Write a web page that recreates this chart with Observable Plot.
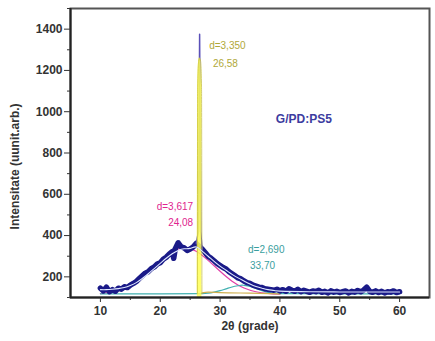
<!DOCTYPE html>
<html><head><meta charset="utf-8">
<script src="https://cdn.jsdelivr.net/npm/d3@7"></script>
<script src="https://cdn.jsdelivr.net/npm/@observablehq/plot@0.6"></script>
<style>body{margin:0;background:#fff}</style>
</head><body><div id="chart"></div>
<script>
// Measured XRD pattern (2θ, intensity)
const dataAngle = [10,10.5,11,11.5,12,12.5,13,13.5,14,14.5,15,15.5,16,16.5,17,17.5,18,18.5,19,19.5,20,20.5,21,21.5,22,22.25,22.5,23,23.5,24,24.5,25,25.5,26,27,27.5,28,28.5,29,29.5,30,30.5,31,31.5,32,32.5,33,33.5,34,34.5,35,35.5,36,36.5,37,37.5,38,38.5,39,39.5,40,40.5,41,41.5,42,42.5,43,43.5,44,44.5,45,45.5,46,46.5,47,47.5,48,48.5,49,49.5,50,50.5,51,51.5,52,52.5,53,53.5,54,54.5,55,55.5,56,56.5,57,57.5,58,58.5,59,59.5,60];
const dataIntensity = [145,132,150,128,138,130,145,140,152,148,160,168,178,192,205,218,225,240,248,262,268,285,295,310,322,290,335,365,345,340,328,335,345,362,335,318,300,290,278,265,255,245,238,225,215,205,195,190,180,172,168,160,155,150,148,142,140,138,135,140,132,138,130,142,135,130,140,128,135,130,125,132,128,135,125,130,122,132,126,130,124,128,132,122,130,126,134,128,136,150,130,125,132,124,130,122,128,126,132,124,128];
// Sharp peak at 26.58
const peakAngle = [26, 26.4, 26.58, 26.76, 27];
const peakIntensity = [362, 420, 1375, 420, 335];
// Fitted envelope
const fitAngle = [10,11,12,13,14,15,16,17,18,19,20,21,22,23,24,25,26,27,28,29,30,31,32,33,34,35,36,37,38,39,40,45,50,55,60];
const fitIntensity = [138,138,140,143,148,158,172,192,215,240,265,290,312,328,336,338,345,325,300,275,252,232,212,195,180,165,153,145,138,134,131,128,127,127,127];
// Component d=3,617 (24,08)
const magentaAngle = [10,12,14,16,18,20,22,24,26,28,30,32,34,36,38,40];
const magentaIntensity = [119,127,145,176,222,277,321,340,324,280,227,179,146,128,120,116];
// Component d=2,690 (33,70)
const tealAngle = [10,20,27,28,29,30,31,32,33,33.7,34,35,36,37,38,39,40,50,60];
const tealIntensity = [118,118,119,121,126,133,142,151,157,160,159,154,144,133,125,121,119,118,118];
// Component d=3,350 (26,58)
const yellowAngle = [26.2,26.26,26.42,26.58,26.74,26.9,26.96];
const yellowIntensity = [118,1120,1245,1260,1245,1120,118];
const yellowTailAngle = [26.96,28,30,35,40];
const yellowTailIntensity = [122,126,124,121,118];

const xTicks = [10,20,30,40,50,60];
const xMinor = [15,25,35,45,55];
const yTicks = [200,400,600,800,1000,1200,1400];
const yMinor = [100,300,500,700,900,1100,1300,1500];

const labelsStart = [
  {x: 28.17, y: 1318, t: "d=3,350", c: "#b0a838"},
  {x: 28.8,  y: 1231, t: "26,58",   c: "#b0a838"},
  {x: 34.67, y: 333,  t: "d=2,690", c: "#3a9e9e"},
  {x: 35.0,  y: 256,  t: "33,70",   c: "#3a9e9e"}
];
const labelsEnd = [
  {x: 25.5,  y: 537,  t: "d=3,617", c: "#e0248e"},
  {x: 25.5,  y: 460,  t: "24,08",   c: "#e0248e"}
];

const pts = (xs, ys) => xs.map((x, i) => ({x, y: ys[i]}));

const chart = Plot.plot({
  width: 435, height: 341,
  marginLeft: 70, marginRight: 6, marginTop: 8, marginBottom: 44,
  style: {fontFamily: "'Liberation Sans', Arial, sans-serif", background: "#fff", overflow: "visible"},
  x: {domain: [5, 65]},
  y: {domain: [100, 1500]},
  marks: [
    Plot.lineY(pts(magentaAngle, magentaIntensity), {x: "x", y: "y", stroke: "#e040a8", strokeWidth: 1.2, curve: "natural"}),
    Plot.lineY(pts(tealAngle, tealIntensity), {x: "x", y: "y", stroke: "#40b0b0", strokeWidth: 1.2, curve: "monotone-x"}),
    Plot.lineY(pts(yellowTailAngle, yellowTailIntensity), {x: "x", y: "y", stroke: "#d0b050", strokeWidth: 1.2, curve: "monotone-x"}),
    Plot.lineY(pts(dataAngle, dataIntensity), {x: "x", y: "y", stroke: "#1a1a88", strokeWidth: 5.5, strokeLinejoin: "round"}),
    Plot.lineY(pts(peakAngle, peakIntensity), {x: "x", y: "y", stroke: "#5a50b8", strokeWidth: 1.5}),
    Plot.areaY(pts(yellowAngle, yellowIntensity), {x: "x", y1: 100, y2: "y", fill: "#ffff55", fillOpacity: 0.85, curve: "monotone-x"}),
    Plot.lineY(pts(yellowAngle, yellowIntensity), {x: "x", y: "y", stroke: "#c8c040", strokeWidth: 0.8, curve: "monotone-x"}),
    Plot.lineY(pts(fitAngle, fitIntensity), {x: "x", y: "y", stroke: "#dfe8ff", strokeWidth: 1.1, curve: "natural"}),
    Plot.text(labelsStart, {x: "x", y: "y", text: "t", fill: "c", textAnchor: "start", fontSize: 10}),
    Plot.text(labelsEnd, {x: "x", y: "y", text: "t", fill: "c", textAnchor: "end", fontSize: 10}),
    Plot.text(["G/PD:PS5"], {x: 44, y: 966, fill: "#3c3ca0", fontSize: 12, fontWeight: "bold"}),
    Plot.axisX({ticks: xMinor, tickSize: 3, text: null, label: null, stroke: "#333"}),
    Plot.axisX({ticks: xTicks, tickSize: 5, tickPadding: 4, tickFormat: d => String(d), label: null, fontSize: 12, fontWeight: "bold", fill: "#333", stroke: "#333"}),
    Plot.axisY({ticks: yMinor, tickSize: 3, text: null, label: null, stroke: "#333"}),
    Plot.axisY({ticks: yTicks, tickSize: 6, tickPadding: 2, tickFormat: d => String(d), label: null, fontSize: 12, fontWeight: "bold", fill: "#333", stroke: "#333"}),
    Plot.frame({stroke: "#555", strokeWidth: 2}),
    Plot.ruleX([5], {stroke: "#222", strokeWidth: 2}),
    Plot.ruleY([100], {stroke: "#222", strokeWidth: 2}),
    Plot.text(["2θ (grade)"], {x: 35, y: -37, fontSize: 12, fontWeight: "bold", fill: "#333"}),
    Plot.text(["Intensitate (uunit.arb.)"], {x: -4.2, y: 735, rotate: -90, fontSize: 12, fontWeight: "bold", fill: "#333"})
  ]
});
document.getElementById("chart").append(chart);
</script>
</body></html>
